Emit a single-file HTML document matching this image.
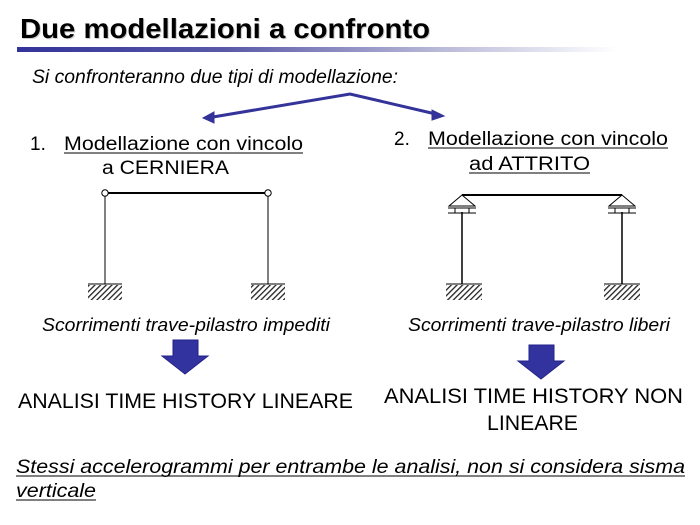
<!DOCTYPE html>
<html><head><style>html,body{margin:0;padding:0;background:#fff;}svg{display:block}</style></head>
<body>
<svg width="700" height="525" viewBox="0 0 700 525" xmlns="http://www.w3.org/2000/svg" font-family="Liberation Sans, Arial, sans-serif">
<defs>
<linearGradient id="g" x1="0" x2="1"><stop offset="0" stop-color="#33339a"/><stop offset="0.35" stop-color="#5a5aa8"/><stop offset="0.7" stop-color="#b8b8d8"/><stop offset="1" stop-color="#fff"/></linearGradient>
<pattern id="h" width="4" height="4" patternUnits="userSpaceOnUse" patternTransform="rotate(45)"><rect width="1.3" height="4" fill="#222"/></pattern>
</defs>
<text x="21" y="39" font-size="28" font-weight="bold" fill="#ccc" textLength="410" lengthAdjust="spacingAndGlyphs">Due modellazioni a confronto</text>
<text x="20" y="38" font-size="28" font-weight="bold" fill="#000" textLength="410" lengthAdjust="spacingAndGlyphs">Due modellazioni a confronto</text>
<rect x="17" y="47" width="600" height="5" fill="url(#g)"/>
<text x="32" y="83" font-size="19" font-style="italic" textLength="366" lengthAdjust="spacingAndGlyphs">Si confronteranno due tipi di modellazione:</text>
<g stroke="#33339a" stroke-width="3" fill="#33339a">
<polyline points="207,118 350,94 440,115" fill="none"/>
<polygon points="203,118 214,112 214,123" stroke-width="1"/>
<polygon points="444,116 432,110 432,120" stroke-width="1"/>
</g>
<text x="30" y="150" font-size="19">1.</text>
<text x="64" y="150" font-size="19" textLength="239" lengthAdjust="spacingAndGlyphs">Modellazione con vincolo</text>
<line x1="64" y1="153" x2="303" y2="153" stroke="#000"/>
<text x="102" y="174" font-size="19" textLength="127" lengthAdjust="spacingAndGlyphs">a CERNIERA</text>
<text x="394" y="145" font-size="19">2.</text>
<text x="428" y="145" font-size="19" textLength="240" lengthAdjust="spacingAndGlyphs">Modellazione con vincolo</text>
<line x1="428" y1="148" x2="668" y2="148" stroke="#000"/>
<text x="469" y="170" font-size="19" textLength="121" lengthAdjust="spacingAndGlyphs">ad ATTRITO</text>
<line x1="469" y1="173" x2="590" y2="173" stroke="#000"/>
<g stroke="#000" fill="none">
<line x1="108" y1="193" x2="265" y2="193" stroke-width="2"/>
<line x1="105" y1="196" x2="105" y2="284"/>
<line x1="268" y1="196" x2="268" y2="284"/>
<circle cx="105" cy="193" r="3.2" fill="#fff"/>
<circle cx="268" cy="193" r="3.2" fill="#fff"/>
<line x1="88" y1="284" x2="122" y2="284"/>
<line x1="251" y1="284" x2="285" y2="284"/>
</g>
<rect x="88" y="285" width="34" height="15" fill="url(#h)"/>
<rect x="251" y="285" width="34" height="15" fill="url(#h)"/>
<g stroke="#000" fill="none">
<line x1="462" y1="195" x2="622" y2="195" stroke-width="2"/>
<line x1="462" y1="212" x2="462" y2="284" stroke-width="1.5"/>
<line x1="622" y1="212" x2="622" y2="284" stroke-width="1.5"/>
<polygon points="462,195 449,206 475,206" fill="#fff"/>
<polygon points="622,195 609,206 635,206" fill="#fff"/>
<line x1="448" y1="208" x2="476" y2="208"/><line x1="448" y1="213" x2="476" y2="213"/>
<line x1="608" y1="208" x2="636" y2="208"/><line x1="608" y1="213" x2="636" y2="213"/>
<rect x="455" y="208" width="14" height="5"/><rect x="615" y="208" width="14" height="5"/>
<line x1="446" y1="284" x2="482" y2="284"/>
<line x1="604" y1="284" x2="640" y2="284"/>
</g>
<rect x="446" y="285" width="36" height="15" fill="url(#h)"/>
<rect x="604" y="285" width="36" height="15" fill="url(#h)"/>
<text x="42" y="331" font-size="18" font-style="italic" textLength="288" lengthAdjust="spacingAndGlyphs">Scorrimenti trave-pilastro impediti</text>
<text x="408" y="331" font-size="18" font-style="italic" textLength="262" lengthAdjust="spacingAndGlyphs">Scorrimenti trave-pilastro liberi</text>
<polygon points="173,340 198,340 198,356 208,356 185,374 162,356 173,356" fill="#3333a0" stroke="#222288"/>
<polygon points="529,345 554,345 554,361 564,361 541,379 518,361 529,361" fill="#3333a0" stroke="#222288"/>
<text x="18" y="408" font-size="21" textLength="335" lengthAdjust="spacingAndGlyphs">ANALISI TIME HISTORY LINEARE</text>
<text x="384" y="403" font-size="21" textLength="299" lengthAdjust="spacingAndGlyphs">ANALISI TIME HISTORY  NON</text>
<text x="487" y="430" font-size="21" textLength="91" lengthAdjust="spacingAndGlyphs">LINEARE</text>
<text x="16" y="473" font-size="19" font-style="italic" textLength="669" lengthAdjust="spacingAndGlyphs">Stessi accelerogrammi per entrambe le analisi, non si considera sisma</text>
<line x1="16" y1="476" x2="685" y2="476" stroke="#000"/>
<text x="16" y="497" font-size="19" font-style="italic" textLength="80" lengthAdjust="spacingAndGlyphs">verticale</text>
<line x1="16" y1="500" x2="96" y2="500" stroke="#000"/>
</svg>
</body></html>
